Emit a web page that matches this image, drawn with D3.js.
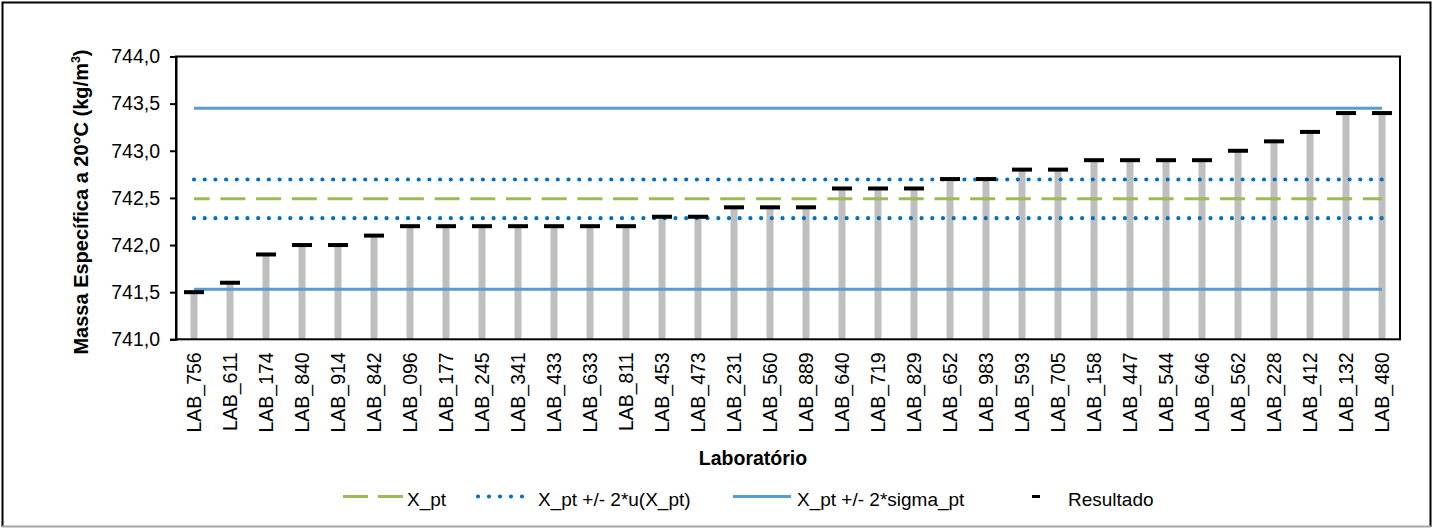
<!DOCTYPE html>
<html>
<head>
<meta charset="utf-8">
<script src="https://cdn.jsdelivr.net/npm/d3@7/dist/d3.min.js"></script>
<style>
  html, body { margin: 0; padding: 0; background: #fff; }
  svg { display: block; font-family: "Liberation Sans", Arial, sans-serif; }
</style>
</head>
<body>
<svg id="chart" width="1435" height="528"></svg>
<script>
// Laboratories, in increasing order of result
const labs = ["LAB_756","LAB_611","LAB_174","LAB_840","LAB_914","LAB_842","LAB_096","LAB_177","LAB_245","LAB_341","LAB_433","LAB_633","LAB_811","LAB_453","LAB_473","LAB_231","LAB_560","LAB_889","LAB_640","LAB_719","LAB_829","LAB_652","LAB_983","LAB_593","LAB_705","LAB_158","LAB_447","LAB_544","LAB_646","LAB_562","LAB_228","LAB_412","LAB_132","LAB_480"];
// Reported density at 20 °C (kg/m³)
const resultado = [741.5,741.6,741.9,742.0,742.0,742.1,742.2,742.2,742.2,742.2,742.2,742.2,742.2,742.3,742.3,742.4,742.4,742.4,742.6,742.6,742.6,742.7,742.7,742.8,742.8,742.9,742.9,742.9,742.9,743.0,743.1,743.2,743.4,743.4];
// Assigned value and its limits
const xPt = [742.49];
const xPtU = [742.285, 742.695];
const xPtSigma = [741.53, 743.45];
const yTicks = [741.0, 741.5, 742.0, 742.5, 743.0, 743.5, 744.0];
const legendLabels = ["X_pt", "X_pt +/- 2*u(X_pt)", "X_pt +/- 2*sigma_pt", "Resultado"];

(function () {
const svg = d3.select("#chart");
const W = 1435, H = 528;
const pL = 176, pR = 1400, pT = 56.5, pB = 339.3;

const x = d3.scaleBand().domain(labs).range([pL, pR]).padding(0);
const cx = d => x(d) + x.bandwidth() / 2;
const y = d3.scaleLinear().domain([741, 744]).range([pB, pT]);
const fmt = v => d3.format(".1f")(v).replace(".", ",");

// outer chart frame
svg.append("rect").attr("x", 0).attr("y", 0).attr("width", W).attr("height", H).attr("fill", "#fff");
svg.append("path").attr("d", `M2.5,527 L2.5,2.5 L1430.5,2.5 L1430.5,527`)
  .attr("fill", "none").attr("stroke", "#000").attr("stroke-width", 2);
svg.append("line").attr("x1", 2).attr("x2", 1431).attr("y1", 526.5).attr("y2", 526.5)
  .attr("stroke", "#a6a6a6").attr("stroke-width", 2);

// bars (grey stems)
const barW = 7;
svg.append("g").selectAll("rect").data(labs).join("rect")
  .attr("x", d => cx(d) - barW / 2)
  .attr("width", barW)
  .attr("y", (d, i) => y(resultado[i]))
  .attr("height", (d, i) => y(741) - y(resultado[i]))
  .attr("fill", "#bfbfbf");

// reference lines drawn across category centres
const x0 = cx(labs[0]), x1 = cx(labs[labs.length - 1]);
const line = d3.line().x(d => d[0]).y(d => y(d[1]));
function hline(v) { return line([[x0, v], [x1, v]]); }

xPtSigma.forEach(v => svg.append("path").attr("d", hline(v))
  .attr("stroke", "#5b9bd5").attr("stroke-width", 3).attr("fill", "none"));
xPtU.forEach(v => svg.append("path").attr("d", hline(v))
  .attr("stroke", "#0070c0").attr("stroke-width", 4.2).attr("fill", "none")
  .attr("stroke-linecap", "round").attr("stroke-dasharray", "0 10.7"));
xPt.forEach(v => svg.append("path").attr("d", hline(v))
  .attr("stroke", "#9bbb59").attr("stroke-width", 3).attr("fill", "none")
  .attr("stroke-dasharray", "25 10.7").attr("stroke-dashoffset", 9.3));

// result markers
svg.append("g").selectAll("rect").data(labs).join("rect")
  .attr("x", d => cx(d) - 10)
  .attr("width", 20)
  .attr("y", (d, i) => y(resultado[i]) - 2)
  .attr("height", 4)
  .attr("fill", "#000");

// plot frame
svg.append("rect").attr("x", pL).attr("y", pT).attr("width", pR - pL).attr("height", pB - pT)
  .attr("fill", "none").attr("stroke", "#000").attr("stroke-width", 2);

// y axis
const yAxis = svg.append("g").attr("transform", `translate(${pL},0)`)
  .call(d3.axisLeft(y).tickValues(yTicks).tickFormat(fmt).tickSize(6).tickPadding(10));
yAxis.select(".domain").attr("stroke-width", 2);
yAxis.selectAll(".tick line").attr("stroke-width", 2);
yAxis.selectAll("text").attr("font-size", 19.5).attr("fill", "#000")
  .attr("font-family", "'Liberation Sans', Arial, sans-serif");

// x axis (labels only)
const xAxis = svg.append("g").attr("transform", `translate(0,${pB})`)
  .call(d3.axisBottom(x).tickSize(0).tickPadding(0));
xAxis.select(".domain").remove();
xAxis.selectAll("text")
  .attr("font-size", 19.5).attr("fill", "#000")
  .attr("font-family", "'Liberation Sans', Arial, sans-serif")
  .attr("text-anchor", "end")
  .attr("transform", "translate(7,13) rotate(-90)")
  .attr("x", 0).attr("y", 0).attr("dy", 0);

// axis titles
svg.append("text").attr("x", 753).attr("y", 465)
  .attr("text-anchor", "middle").attr("font-weight", "bold").attr("font-size", 19.5)
  .text("Laboratório");
const yt = svg.append("text").attr("transform", "translate(88,202) rotate(-90)")
  .attr("text-anchor", "middle").attr("font-weight", "bold").attr("font-size", 20);
yt.append("tspan").text("Massa Específica a 20°C (kg/m");
yt.append("tspan").attr("font-size", 12.5).attr("dy", -8).text("3");
yt.append("tspan").attr("dy", 8).text(")");

// legend
const ly = 496.5, lty = 506;
const lg = svg.append("g");
lg.append("line").attr("x1", 343).attr("x2", 403).attr("y1", ly).attr("y2", ly)
  .attr("stroke", "#9bbb59").attr("stroke-width", 3).attr("stroke-dasharray", "25 10");
lg.append("line").attr("x1", 478).attr("x2", 533).attr("y1", ly).attr("y2", ly)
  .attr("stroke", "#0070c0").attr("stroke-width", 4.2).attr("stroke-linecap", "round")
  .attr("stroke-dasharray", "0 11");
lg.append("line").attr("x1", 733).attr("x2", 791).attr("y1", ly).attr("y2", ly)
  .attr("stroke", "#5b9bd5").attr("stroke-width", 3);
lg.append("rect").attr("x", 1032).attr("y", ly - 1.5).attr("width", 8).attr("height", 3).attr("fill", "#000");
const lx = [407, 538, 797, 1068];
legendLabels.forEach((t, i) => lg.append("text").attr("x", lx[i]).attr("y", lty)
  .attr("font-size", 19).attr("fill", "#000").text(t));
})();
</script>
</body>
</html>
